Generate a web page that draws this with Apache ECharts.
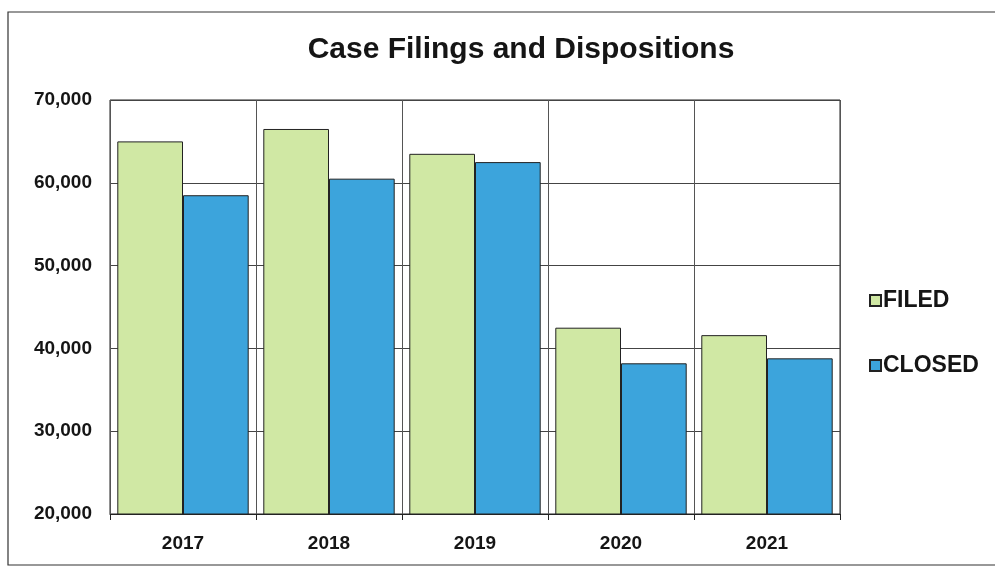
<!DOCTYPE html>
<html><head><meta charset="utf-8">
<script src="https://cdn.jsdelivr.net/npm/echarts@6/dist/echarts.min.js"></script>
<style>html,body{margin:0;padding:0;background:#fff}#c{width:995px;height:567px}</style>
</head><body><div id="c"></div>
<script>
const years = ['2017','2018','2019','2020','2021'];
const filed = [65000, 66500, 63500, 42500, 41600];
const closed = [58500, 60500, 62500, 38200, 38800];
const yTicks = {min: 20000, max: 70000, interval: 10000};

const chart = echarts.init(document.getElementById('c'));
const font = '"Liberation Sans", Arial, sans-serif';
chart.setOption({
  animation: false,
  backgroundColor: '#fff',
  title: {text: 'Case Filings and Dispositions', left: 516, top: 30, textAlign: 'center',
    textStyle: {fontFamily: font, fontSize: 30, fontWeight: 'bold', color: '#151515'}},
  graphic: [{type: 'rect', shape: {x: 8, y: 12, width: 1000, height: 553},
    style: {fill: 'none', stroke: '#333', lineWidth: 1.2}, z: -1}],
  legend: {orient: 'vertical', left: 864, top: 284, itemGap: 42, itemWidth: 11, itemHeight: 11,
    icon: 'rect',
    textStyle: {fontFamily: font, fontSize: 23, fontWeight: 'bold', color: '#151515', padding: [0,0,0,-3]},
    data: ['FILED', 'CLOSED']},
  grid: {left: 110, right: 155, top: 100, bottom: 53, show: true, borderColor: '#222', borderWidth: 1},
  xAxis: {type: 'category', data: years,
    axisLine: {lineStyle: {color: '#222'}},
    axisTick: {show: true, length: 6, lineStyle: {color: '#222'}},
    splitLine: {show: true, lineStyle: {color: '#555', width: 1}},
    axisLabel: {fontFamily: font, fontSize: 19, fontWeight: 'bold', color: '#151515', margin: 20}},
  yAxis: {type: 'value', min: yTicks.min, max: yTicks.max, interval: yTicks.interval,
    axisLine: {show: false}, axisTick: {show: false},
    splitLine: {lineStyle: {color: '#444', width: 1}},
    axisLabel: {fontFamily: font, fontSize: 19, fontWeight: 'bold', color: '#151515', margin: 18,
      formatter: v => v.toLocaleString('en-US')}},
  series: [
    {name: 'FILED', type: 'bar', data: filed, barGap: '0%', barCategoryGap: '10%',
      itemStyle: {color: '#d0e8a4', borderColor: '#222', borderWidth: 1}},
    {name: 'CLOSED', type: 'bar', data: closed,
      itemStyle: {color: '#3ca4dc', borderColor: '#222', borderWidth: 1}}
  ]
});
</script></body></html>
